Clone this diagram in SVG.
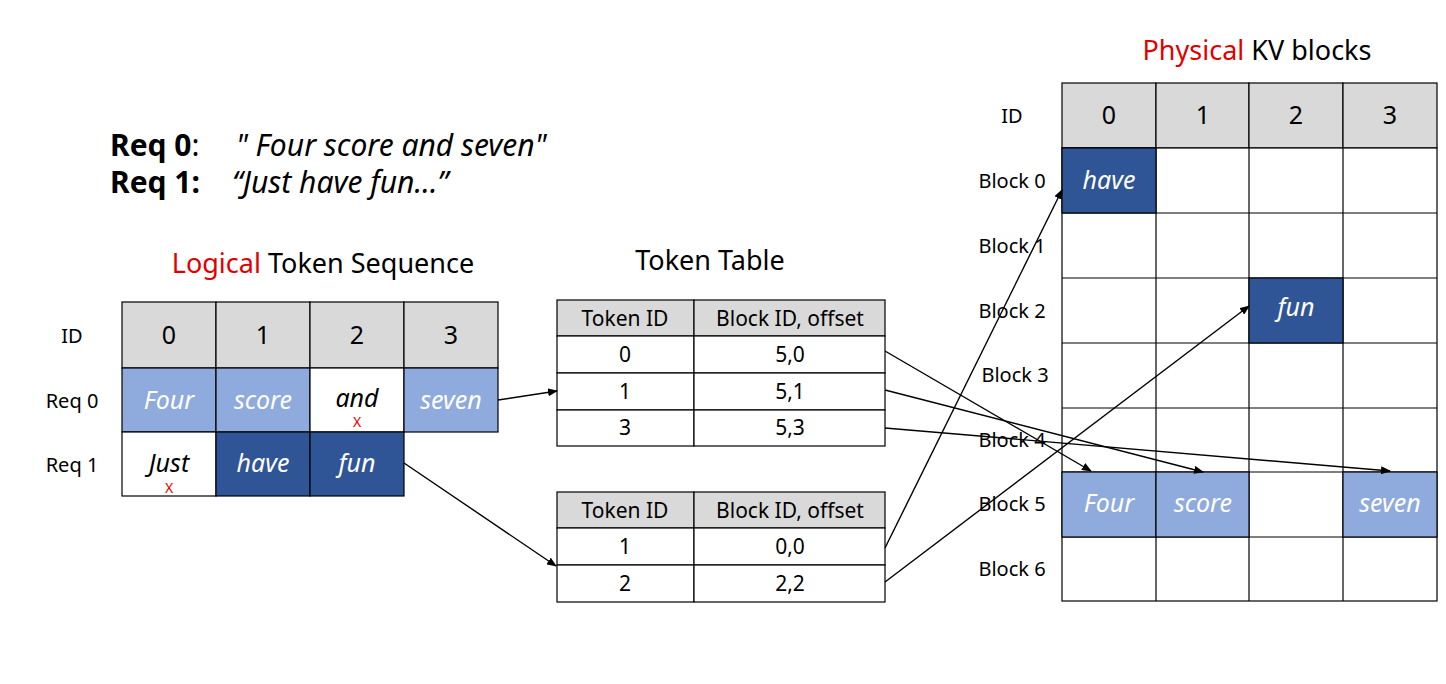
<svg xmlns="http://www.w3.org/2000/svg" width="1446" height="684" viewBox="0 0 1446 684">
<defs>
<marker id="ah" markerWidth="10" markerHeight="8" refX="9" refY="4" orient="auto" markerUnits="userSpaceOnUse"><path d="M0,0 L10,4 L0,8 z" fill="#000"/></marker>
</defs>
<style>
text{font-family:"Noto Sans","Open Sans",sans-serif;fill:#000}
.c{stroke:#000;stroke-width:1.2}
.h{fill:#d9d9d9}.w{fill:#fff}.l{fill:#8faadc}.d{fill:#2f5597}
.n{font-size:25px;text-anchor:middle}
.it{font-size:25px;font-style:italic;text-anchor:middle;fill:#fff}
.lb{font-size:20px;text-anchor:middle}
.t{font-size:21px;text-anchor:middle}
.ttl{font-size:27px;text-anchor:middle}
.x{fill:#e00000;font-size:14px;text-anchor:middle}
.con line{stroke:#000;stroke-width:1.4;marker-end:url(#ah)}
</style>
<rect width="1446" height="684" fill="#fff"/>
<g id="reqs">
<text x="110" y="156" font-size="30" font-weight="bold">Req 0<tspan font-weight="normal">:</tspan></text>
<text x="236" y="156" font-size="30" font-style="italic">" Four score and seven"</text>
<text x="110" y="193" font-size="30" font-weight="bold">Req 1:</text>
<text x="232" y="193" font-size="30" font-style="italic">“Just have fun…”</text>
</g>
<g id="logical">
<text x="323" y="273" class="ttl"><tspan fill="#e00000">Logical</tspan> Token Sequence</text>
<text x="72" y="343" class="lb">ID</text>
<text x="72" y="408" class="lb">Req 0</text>
<text x="72" y="472" class="lb">Req 1</text>
<rect x="122" y="302" width="94" height="66" class="h c"/><rect x="216" y="302" width="94" height="66" class="h c"/><rect x="310" y="302" width="94" height="66" class="h c"/><rect x="404" y="302" width="94" height="66" class="h c"/>
<rect x="122" y="368" width="94" height="64" class="l c"/><rect x="216" y="368" width="94" height="64" class="l c"/><rect x="310" y="368" width="94" height="64" class="w c"/><rect x="404" y="368" width="94" height="64" class="l c"/>
<rect x="122" y="432" width="94" height="64" class="w c"/><rect x="216" y="432" width="94" height="64" class="d c"/><rect x="310" y="432" width="94" height="64" class="d c"/>
<text x="169" y="344" class="n">0</text><text x="263" y="344" class="n">1</text><text x="357" y="344" class="n">2</text><text x="451" y="344" class="n">3</text>
<text x="169" y="409" class="it">Four</text><text x="263" y="409" class="it">score</text><text x="357" y="407" class="it" style="fill:#000">and</text><text x="451" y="409" class="it">seven</text>
<text x="357" y="427" class="x">X</text>
<text x="169" y="472" class="it" style="fill:#000">Just</text><text x="263" y="472" class="it">have</text><text x="357" y="472" class="it">fun</text>
<text x="169" y="493" class="x">X</text>
</g>
<g id="tokentable1">
<text x="710" y="270" class="ttl">Token Table</text>
<rect x="557" y="300" width="137" height="36" class="h c"/><rect x="694" y="300" width="191" height="36" class="h c"/>
<rect x="557" y="336" width="137" height="37" class="w c"/><rect x="694" y="336" width="191" height="37" class="w c"/>
<rect x="557" y="373" width="137" height="37" class="w c"/><rect x="694" y="373" width="191" height="37" class="w c"/>
<rect x="557" y="410" width="137" height="36" class="w c"/><rect x="694" y="410" width="191" height="36" class="w c"/>
<text x="625" y="326" class="t">Token ID</text><text x="790" y="326" class="t">Block ID, offset</text>
<text x="625" y="362" class="t">0</text><text x="790" y="362" class="t">5,0</text>
<text x="625" y="399" class="t">1</text><text x="790" y="399" class="t">5,1</text>
<text x="625" y="435" class="t">3</text><text x="790" y="435" class="t">5,3</text>
</g>
<g id="tokentable2">
<rect x="557" y="492" width="137" height="36" class="h c"/><rect x="694" y="492" width="191" height="36" class="h c"/>
<rect x="557" y="528" width="137" height="37" class="w c"/><rect x="694" y="528" width="191" height="37" class="w c"/>
<rect x="557" y="565" width="137" height="37" class="w c"/><rect x="694" y="565" width="191" height="37" class="w c"/>
<text x="625" y="518" class="t">Token ID</text><text x="790" y="518" class="t">Block ID, offset</text>
<text x="625" y="554" class="t">1</text><text x="790" y="554" class="t">0,0</text>
<text x="625" y="591" class="t">2</text><text x="790" y="591" class="t">2,2</text>
</g>
<g id="physical">
<text x="1257" y="60" class="ttl"><tspan fill="#e00000">Physical</tspan> KV blocks</text>
<text x="1012" y="123" class="lb">ID</text>
<text x="1012" y="188" class="lb">Block 0</text><text x="1012" y="253" class="lb">Block 1</text><text x="1012" y="318" class="lb">Block 2</text><text x="1015" y="382" class="lb">Block 3</text><text x="1012" y="447" class="lb">Block 4</text><text x="1012" y="511" class="lb">Block 5</text><text x="1012" y="576" class="lb">Block 6</text>
<g fill="#fff" stroke="#000" stroke-width="1.2">
<rect x="1062" y="83" width="94" height="65" class="h"/><rect x="1156" y="83" width="93" height="65" class="h"/><rect x="1249" y="83" width="94" height="65" class="h"/><rect x="1343" y="83" width="94" height="65" class="h"/>
<rect x="1062" y="148" width="375" height="453"/>
<line x1="1156" y1="148" x2="1156" y2="601"/><line x1="1249" y1="148" x2="1249" y2="601"/><line x1="1343" y1="148" x2="1343" y2="601"/>
<line x1="1062" y1="213" x2="1437" y2="213"/><line x1="1062" y1="278" x2="1437" y2="278"/><line x1="1062" y1="343" x2="1437" y2="343"/><line x1="1062" y1="408" x2="1437" y2="408"/><line x1="1062" y1="472" x2="1437" y2="472"/><line x1="1062" y1="537" x2="1437" y2="537"/>
<rect x="1062" y="148" width="94" height="65" class="d"/>
<rect x="1249" y="278" width="94" height="65" class="d"/>
<rect x="1062" y="472" width="94" height="65" class="l"/><rect x="1156" y="472" width="93" height="65" class="l"/><rect x="1343" y="472" width="94" height="65" class="l"/>
</g>
<text x="1109" y="124" class="n">0</text><text x="1203" y="124" class="n">1</text><text x="1296" y="124" class="n">2</text><text x="1390" y="124" class="n">3</text>
<text x="1109" y="189" class="it">have</text><text x="1296" y="316" class="it">fun</text>
<text x="1109" y="512" class="it">Four</text><text x="1203" y="512" class="it">score</text><text x="1390" y="512" class="it">seven</text>
</g>
<g id="connectors" class="con">
<line x1="498" y1="400" x2="557" y2="391"/>
<line x1="404" y1="463" x2="556" y2="566"/>
<line x1="885" y1="351" x2="1091" y2="471"/>
<line x1="885" y1="390" x2="1203" y2="472"/>
<line x1="885" y1="428" x2="1390" y2="471"/>
<line x1="885" y1="548" x2="1062" y2="190"/>
<line x1="885" y1="582" x2="1249" y2="306"/>
</g>
</svg>
